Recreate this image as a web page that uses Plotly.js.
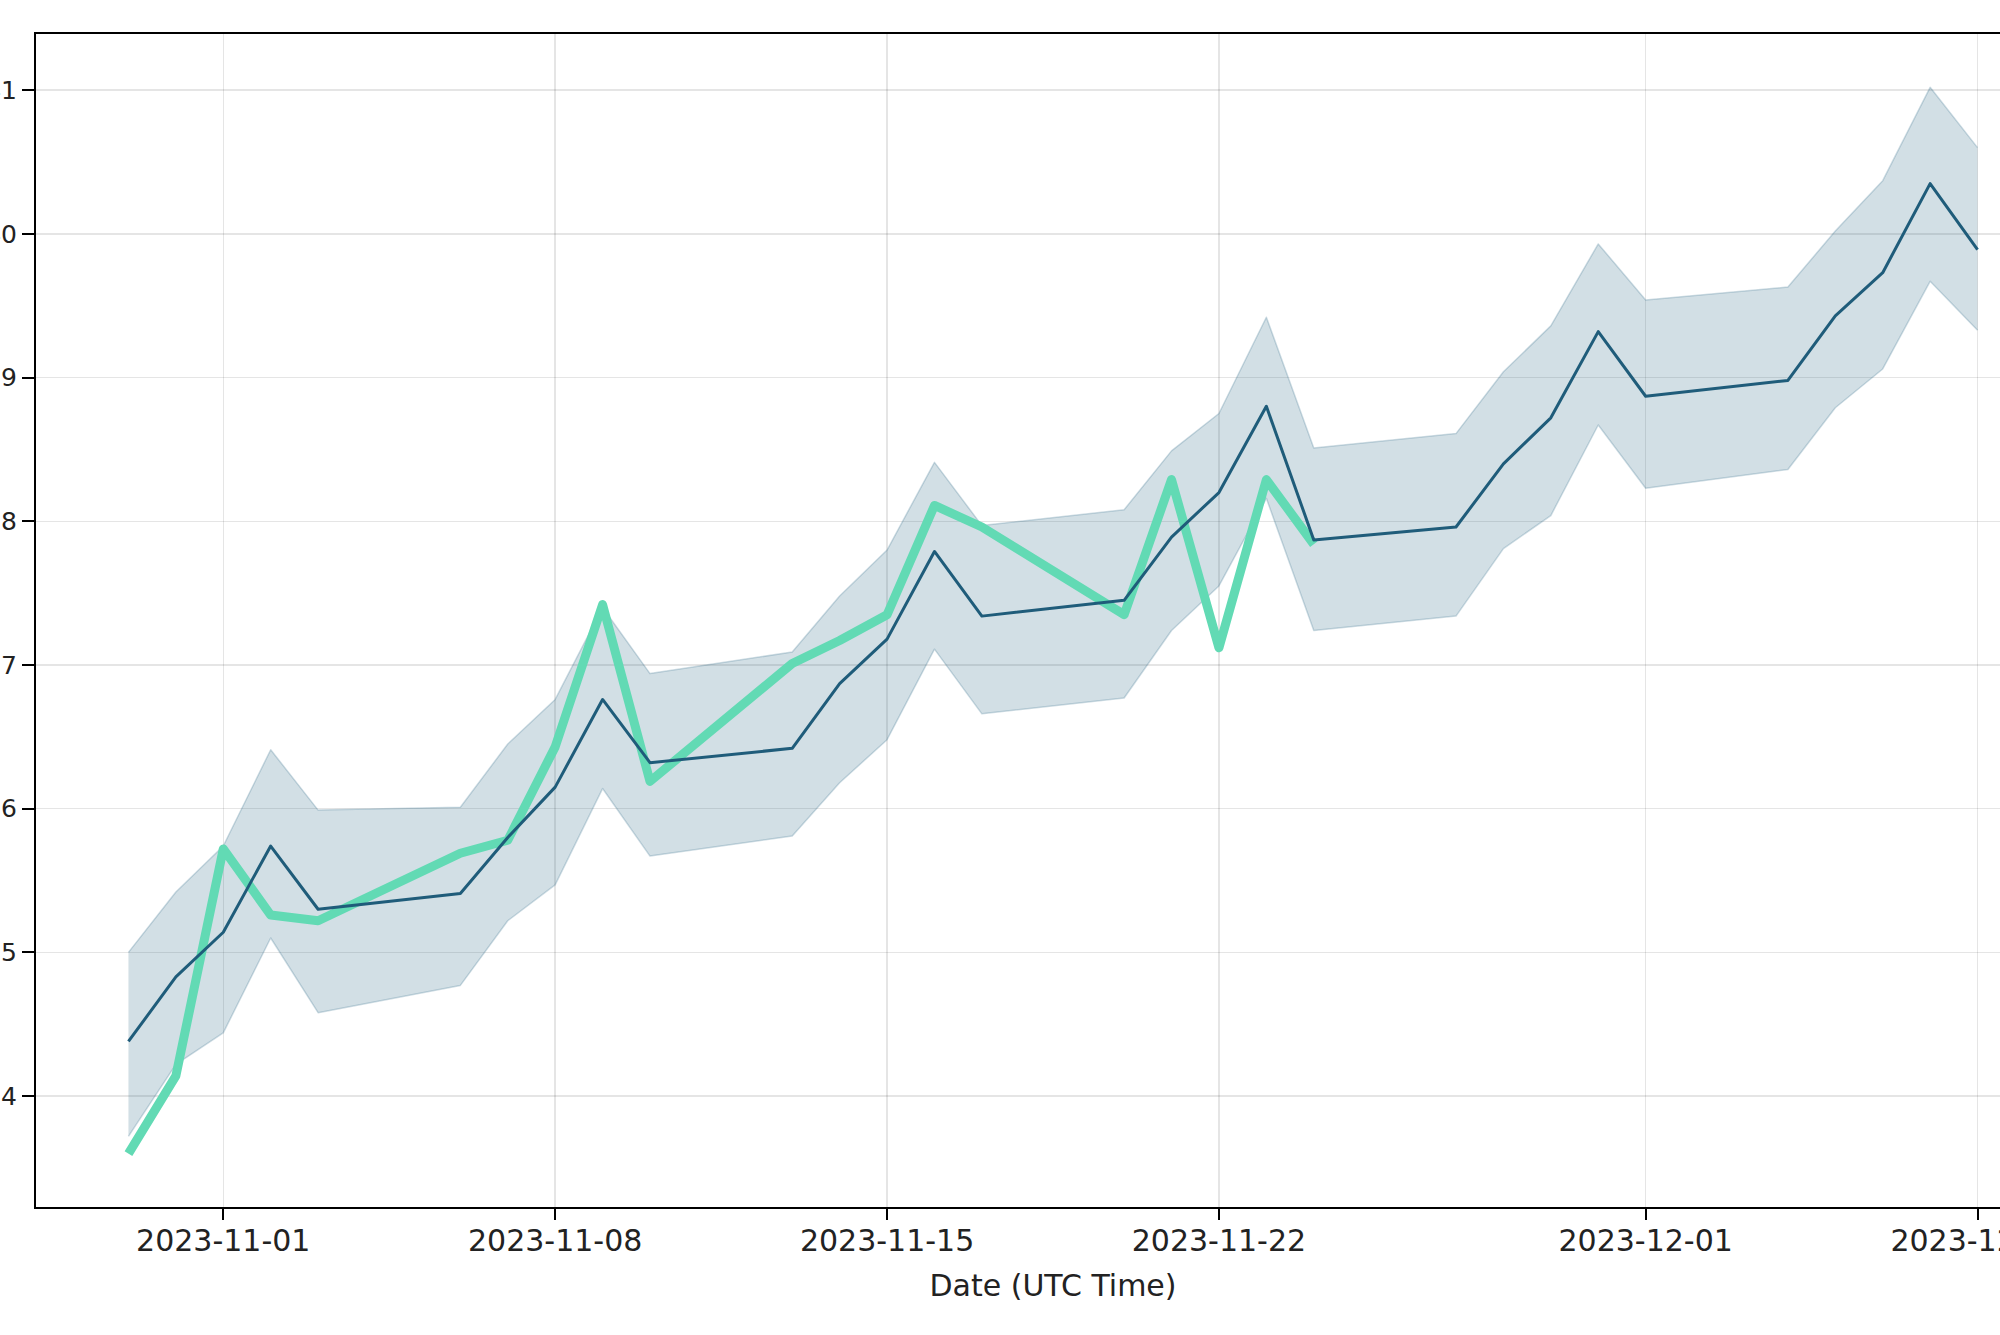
<!DOCTYPE html>
<html>
<head>
<meta charset="utf-8">
<script src="https://cdn.plot.ly/plotly-3.0.1.min.js"></script>
<style>
  html, body { margin: 0; padding: 0; overflow: hidden; background: #fff; }
  #chart { width: 2160px; height: 1335px; }
  .js-line { stroke-linejoin: round; }
</style>
</head>
<body>
<div id="chart"></div>
<script>
// Trading dates (weekends skipped)
const dates = [
  "2023-10-30","2023-10-31","2023-11-01","2023-11-02","2023-11-03",
  "2023-11-06","2023-11-07","2023-11-08","2023-11-09","2023-11-10",
  "2023-11-13","2023-11-14","2023-11-15","2023-11-16","2023-11-17",
  "2023-11-20","2023-11-21","2023-11-22","2023-11-23","2023-11-24",
  "2023-11-27","2023-11-28","2023-11-29","2023-11-30","2023-12-01",
  "2023-12-04","2023-12-05","2023-12-06","2023-12-07","2023-12-08"
];
// Forecast (mean)
const forecast = [
  0.3438, 0.3483, 0.3514, 0.3574, 0.3530,
  0.3541, 0.3580, 0.3615, 0.3676, 0.3632,
  0.3642, 0.3687, 0.3718, 0.3779, 0.3734,
  0.3745, 0.3789, 0.3820, 0.3880, 0.3787,
  0.3796, 0.3840, 0.3872, 0.3932, 0.3887,
  0.3898, 0.3943, 0.3973, 0.4035, 0.3989
];
// Upper bound of forecast band
const upperBound = [
  0.3500, 0.3542, 0.3574, 0.3641, 0.3599,
  0.3601, 0.3645, 0.3676, 0.3740, 0.3694,
  0.3709, 0.3748, 0.3780, 0.3841, 0.3797,
  0.3808, 0.3849, 0.3875, 0.3942, 0.3851,
  0.3861, 0.3904, 0.3936, 0.3993, 0.3954,
  0.3963, 0.4002, 0.4037, 0.4102, 0.4060
];
// Lower bound of forecast band
const lowerBound = [
  0.3372, 0.3422, 0.3444, 0.3510, 0.3458,
  0.3477, 0.3522, 0.3547, 0.3614, 0.3567,
  0.3581, 0.3618, 0.3648, 0.3711, 0.3666,
  0.3677, 0.3724, 0.3755, 0.3816, 0.3724,
  0.3734, 0.3781, 0.3804, 0.3867, 0.3823,
  0.3836, 0.3879, 0.3906, 0.3967, 0.3933
];
// Actual values (available up to 2023-11-24)
const actual = [
  0.3360, 0.3414, 0.3572, 0.3526, 0.3522,
  0.3569, 0.3578, 0.3643, 0.3742, 0.3619,
  0.3701, 0.3717, 0.3735, 0.3811, 0.3796,
  0.3735, 0.3829, 0.3712, 0.3829, 0.3784
];
const actualDates = dates.slice(0, actual.length);

// Tick labels
const xTicks = ["2023-11-01","2023-11-08","2023-11-15","2023-11-22","2023-12-01","2023-12-08"];
const yTicks = [0.34, 0.35, 0.36, 0.37, 0.38, 0.39, 0.40, 0.41];

const bandEdge = 'rgba(31,95,127,0.22)';
const traces = [
  { x: dates, y: lowerBound, type: 'scatter', mode: 'lines',
    line: { color: bandEdge, width: 1.5 }, hoverinfo: 'skip', showlegend: false },
  { x: dates, y: upperBound, type: 'scatter', mode: 'lines', fill: 'tonexty',
    fillcolor: 'rgba(31,95,127,0.2)',
    line: { color: bandEdge, width: 1.5 }, hoverinfo: 'skip', showlegend: false },
  { x: actualDates, y: actual, type: 'scatter', mode: 'lines',
    line: { color: 'rgb(98,218,180)', width: 9 }, showlegend: false },
  { x: dates, y: forecast, type: 'scatter', mode: 'lines',
    line: { color: 'rgb(31,92,122)', width: 3 }, showlegend: false }
];

const layout = {
  width: 2160, height: 1335,
  margin: { l: 36, r: 90, t: 34, b: 128 },
  paper_bgcolor: '#ffffff', plot_bgcolor: '#ffffff',
  font: { family: 'DejaVu Sans, sans-serif', color: '#222222' },
  showlegend: false,
  xaxis: {
    type: 'date',
    range: ['2023-10-28 01:12', '2023-12-09 22:48'],
    tickmode: 'array', tickvals: xTicks, tickformat: '%Y-%m-%d',
    ticks: 'outside', ticklen: 11, tickwidth: 2, tickcolor: '#000',
    tickfont: { size: 30, color: '#222' },
    ticklabelstandoff: -5,
    showline: true, linecolor: '#000', linewidth: 2, mirror: true,
    showgrid: true, gridcolor: 'rgba(0,0,0,0.1)', gridwidth: 1.5,
    zeroline: false,
    title: { text: 'Date (UTC Time)', font: { size: 30, color: '#222' }, standoff: 18 },
    automargin: false
  },
  yaxis: {
    range: [0.33228, 0.41391],
    tickmode: 'array', tickvals: yTicks, tickformat: '.2f',
    ticks: 'outside', ticklen: 12, tickwidth: 2, tickcolor: '#000',
    tickfont: { size: 25, color: '#222' },
    showline: true, linecolor: '#000', linewidth: 2, mirror: true,
    showgrid: true, gridcolor: 'rgba(0,0,0,0.1)', gridwidth: 1.5,
    zeroline: false,
    automargin: false
  }
};

Plotly.newPlot('chart', traces, layout, { staticPlot: true, displayModeBar: false });
</script>
</body>
</html>
